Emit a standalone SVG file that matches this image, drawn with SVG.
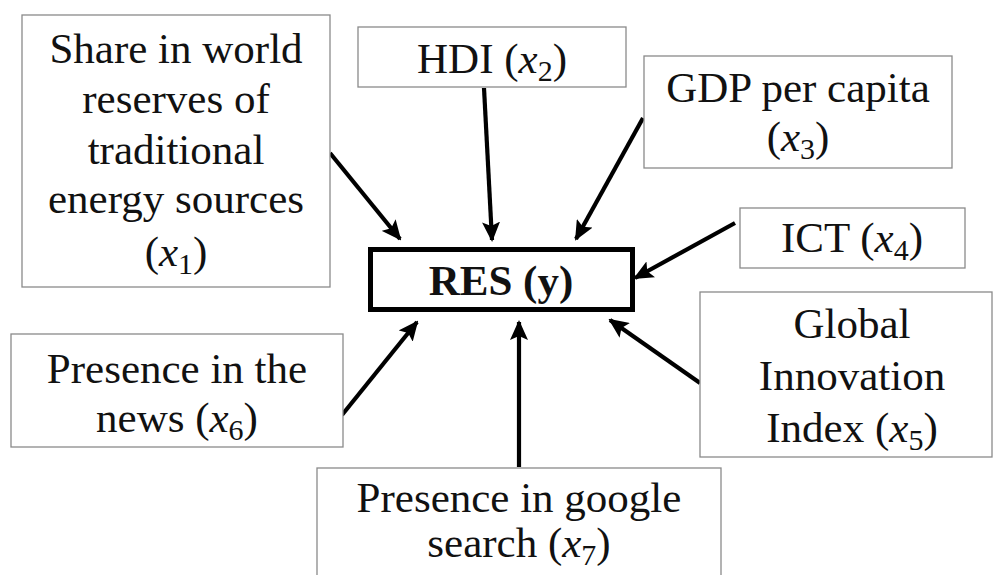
<svg xmlns="http://www.w3.org/2000/svg" width="995" height="575" viewBox="0 0 995 575">
<style>
.box{fill:#fff;stroke:#8a8a8a;stroke-width:1.3}
.main{fill:#fff;stroke:#000;stroke-width:5}
text{font-family:"Liberation Serif","Times New Roman",serif;font-size:43px;fill:#111;text-anchor:middle}
.b{font-weight:bold}
.m{font-style:italic}
.s{font-size:30px}
.c{stroke:#000;stroke-width:4.2;fill:none;marker-end:url(#ah)}
</style>
<defs>
<marker id="ah" markerUnits="userSpaceOnUse" markerWidth="20" markerHeight="18" viewBox="0 0 20 18" refX="18" refY="9" orient="auto">
<path d="M0,0 L20,9 L0,18 L4,9 Z" fill="#000"/>
</marker>
</defs>
<g id="connectors">
<line class="c" x1="330" y1="153" x2="400" y2="239"/>
<line class="c" x1="484" y1="88" x2="492" y2="240"/>
<line class="c" x1="643" y1="118" x2="576" y2="239"/>
<line class="c" x1="735" y1="223" x2="635" y2="278"/>
<line class="c" x1="700" y1="383" x2="610" y2="320"/>
<line class="c" x1="342" y1="415" x2="417" y2="322"/>
<line class="c" x1="519" y1="467" x2="519" y2="322"/>
</g>
<g id="x1">
<rect class="box" x="22" y="15" width="308" height="272"/>
<text x="176" y="63">Share in world</text>
<text x="176" y="113">reserves of</text>
<text x="176" y="164">traditional</text>
<text x="176" y="213">energy sources</text>
<text x="176" y="266">(<tspan class="m">x</tspan><tspan class="s" dy="8">1</tspan><tspan dy="-8">)</tspan></text>
</g>
<g id="x2">
<rect class="box" x="358" y="27" width="268" height="60"/>
<text x="492" y="73">HDI (<tspan class="m">x</tspan><tspan class="s" dy="8">2</tspan><tspan dy="-8">)</tspan></text>
</g>
<g id="x3">
<rect class="box" x="644" y="56" width="308" height="112"/>
<text x="798" y="102">GDP per capita</text>
<text x="798" y="151">(<tspan class="m">x</tspan><tspan class="s" dy="8">3</tspan><tspan dy="-8">)</tspan></text>
</g>
<g id="x4">
<rect class="box" x="740" y="208" width="225" height="60"/>
<text x="852" y="252">ICT (<tspan class="m">x</tspan><tspan class="s" dy="8">4</tspan><tspan dy="-8">)</tspan></text>
</g>
<g id="y">
<rect class="main" x="370.5" y="249.5" width="262" height="60"/>
<text class="b" x="501" y="295">RES (y)</text>
</g>
<g id="x5">
<rect class="box" x="700" y="292" width="292" height="165"/>
<text x="852" y="338">Global</text>
<text x="852" y="390">Innovation</text>
<text x="852" y="442">Index (<tspan class="m">x</tspan><tspan class="s" dy="8">5</tspan><tspan dy="-8">)</tspan></text>
</g>
<g id="x6">
<rect class="box" x="11" y="334" width="332" height="113"/>
<text x="177" y="383">Presence in the</text>
<text x="177" y="432">news (<tspan class="m">x</tspan><tspan class="s" dy="8">6</tspan><tspan dy="-8">)</tspan></text>
</g>
<g id="x7">
<rect class="box" x="317" y="468" width="404" height="120"/>
<text x="519" y="512">Presence in google</text>
<text x="519" y="557">search (<tspan class="m">x</tspan><tspan class="s" dy="8">7</tspan><tspan dy="-8">)</tspan></text>
</g>
</svg>
